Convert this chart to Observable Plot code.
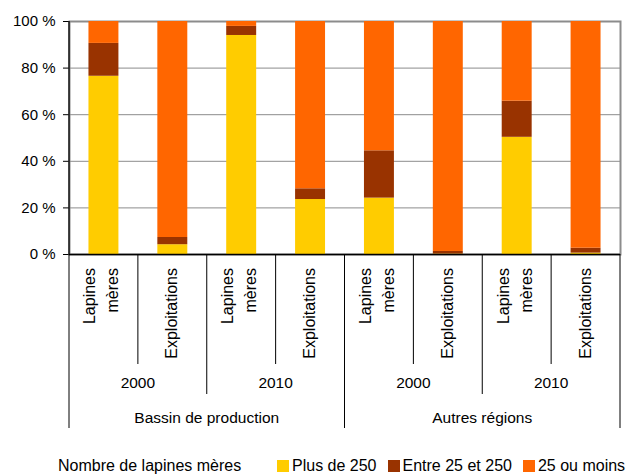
<!DOCTYPE html>
<html><head><meta charset="utf-8">
<script src="https://cdn.jsdelivr.net/npm/d3@7"></script>
<script src="https://cdn.jsdelivr.net/npm/@observablehq/plot@0.6"></script>
<style>
body{margin:0;background:#fff;font-family:"Liberation Sans",Arial,sans-serif;}
#chart{position:relative;width:629px;height:475px;overflow:hidden;}
#chart svg{position:absolute;left:0;top:0;}
#legend{position:absolute;left:0;top:456px;width:629px;height:20px;font-size:16px;color:#000;}
#legend .title{position:absolute;left:58px;top:0;line-height:20px;}
#legend .items{position:absolute;left:277px;top:0;display:flex;align-items:center;height:20px;white-space:nowrap;}
#legend .sw{display:inline-block;width:12px;height:12px;margin-right:3px;}
#legend .it{display:flex;align-items:center;margin-right:11px;}
</style></head><body><div id="chart"><div id="legend"></div></div><script>
const legendTitle = "Nombre de lapines mères";
const regions = ["Bassin de production", "Autres régions"];
const years = ["2000", "2010"];
const measures = [["Lapines", "mères"], ["Exploitations"]];
const series = ["Plus de 250", "Entre 25 et 250", "25 ou moins"];
const colors = ["#FFCC00", "#993300", "#FF6600"];
const plus250 = [76.5, 4.2, 94.0, 23.6, 24.2, 0.2, 50.3, 0.6];
const entre25et250 = [14.1, 3.1, 3.9, 4.6, 20.3, 1.1, 15.5, 2.1];
const moins25 = [9.4, 92.7, 2.1, 71.8, 55.5, 98.7, 34.2, 97.3];
const yTicks = [0, 20, 40, 60, 80, 100];

const cats = [];
regions.forEach(r => years.forEach(y => measures.forEach(m => cats.push({region: r, year: y, measure: m, key: r + "|" + y + "|" + m.join(" ")}))));
const keys = cats.map(c => c.key);
const seriesValues = [plus250, entre25et250, moins25];
const rows = keys.flatMap((k, i) => series.map((s, j) => ({key: k, series: s, value: seriesValues[j][i]})));

const W = 629, H = 440;
const plot = Plot.plot({
  width: W, height: H,
  marginLeft: 69, marginRight: 9, marginTop: 21, marginBottom: H - 254,
  style: {fontFamily: "'Liberation Sans', Arial, sans-serif", fontSize: "15px", color: "#000", background: "#fff", overflow: "visible"},
  x: {domain: keys, paddingInner: 0.565, paddingOuter: 0.2825, align: 0.5, round: false, axis: null},
  y: {domain: [0, 100], ticks: yTicks, tickFormat: d => d + " %", tickSize: 6, tickPadding: 8, label: null},
  color: {domain: series, range: colors},
  marks: [
    Plot.ruleY(yTicks.slice(1), {stroke: "#8c8c8c", strokeWidth: 1}),
    Plot.frame({stroke: "#8c8c8c", strokeWidth: 2}),
    Plot.barY(rows, {x: "key", y: "value", fill: "series"}),
    Plot.ruleY([0], {stroke: "#000", strokeWidth: 1.3})
  ]
});

const xs = plot.scale("x"), ys = plot.scale("y");
const bw = xs.bandwidth;
const step = xs.step || bw / (1 - 0.565);
const x0 = xs.apply(keys[0]) - (step - bw) / 2;
const bx = i => x0 + i * step;
const yBase = ys.apply(0), yTop = ys.apply(100);
const svg = d3.select(plot);
const g = svg.append("g");
// left axis line
g.append("line").attr("x1", bx(0)).attr("x2", bx(0)).attr("y1", yTop).attr("y2", yBase).attr("stroke", "#000").attr("stroke-width", 1.3);
// category separators
for (let i = 0; i <= keys.length; i++) {
  const len = i % 4 === 0 ? 428 : (i % 2 === 0 ? 394 : 364);
  g.append("line").attr("x1", bx(i)).attr("x2", bx(i)).attr("y1", yBase).attr("y2", len).attr("stroke", "#000").attr("stroke-width", 1);
}
// measure labels (rotated)
cats.forEach(c => {
  const cx = xs.apply(c.key) + bw / 2;
  const offs = c.measure.length === 2 ? [-8, 15] : [5];
  c.measure.forEach((line, li) => {
    g.append("text").attr("transform", `translate(${cx + offs[li]},268) rotate(-90)`)
      .attr("text-anchor", "end").attr("font-size", 16).attr("fill", "#000").text(line);
  });
});
// year labels
for (let j = 0; j < regions.length * years.length; j++) {
  g.append("text").attr("x", bx(2 * j + 1)).attr("y", 388).attr("text-anchor", "middle").attr("font-size", 15.5).attr("fill", "#000").text(years[j % years.length]);
}
// region labels
regions.forEach((r, ri) => {
  g.append("text").attr("x", bx(4 * ri + 2)).attr("y", 423).attr("text-anchor", "middle").attr("font-size", 15.5).attr("fill", "#000").text(r);
});

const chart = document.getElementById("chart");
chart.insertBefore(plot, chart.firstChild);
const lg = d3.select("#legend");
lg.append("span").attr("class", "title").text(legendTitle);
const items = lg.append("div").attr("class", "items");
series.forEach((s, i) => {
  const it = items.append("span").attr("class", "it");
  it.append("span").attr("class", "sw").style("background", colors[i]);
  it.append("span").text(s);
});
</script></body></html>
